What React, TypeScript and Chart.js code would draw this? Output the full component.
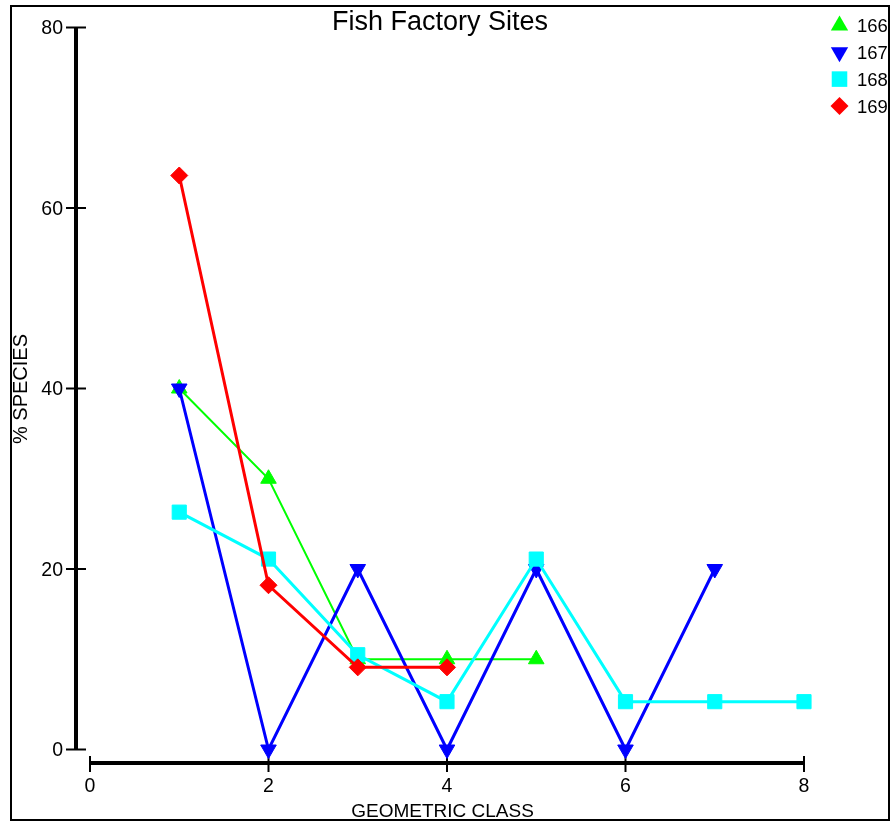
import React, { useEffect, useRef } from "react";
import { Chart, registerables } from "chart.js";

Chart.register(...registerables);

const chartTitle = "Fish Factory Sites";
const xAxisTitle = "GEOMETRIC CLASS";
const yAxisTitle = "% SPECIES";

const geometricClasses = [1, 2, 3, 4, 5, 6, 7, 8];
const xTickValues = [0, 2, 4, 6, 8];
const yTickValues = [0, 20, 40, 60, 80];

const seriesNames = ["166", "167", "168", "169"];
const site166 = [40, 30, 10, 10, 10];
const site167 = [40, 0, 20, 0, 20, 0, 20];
const site168 = [26.3, 21.1, 10.5, 5.3, 21.1, 5.3, 5.3, 5.3];
const site169 = [63.6, 18.2, 9.1, 9.1];

const seriesValues = [site166, site167, site168, site169];
const seriesColors = ["#00ff00", "#0000ff", "#00ffff", "#ff0000"];
const seriesStyles = ["triangle", "triangle", "rect", "rectRot"];
const seriesRotations = [0, 180, 0, 0];
const seriesRadii = [9, 9, 10, 8.5];
const seriesLineWidths = [2, 3, 3, 3];

const FONT = "'Liberation Sans', Arial, Helvetica, sans-serif";

function drawMarker(
  ctx: CanvasRenderingContext2D,
  style: string,
  x: number,
  y: number,
  r: number,
  rotation: number,
  color: string
) {
  ctx.save();
  ctx.fillStyle = color;
  ctx.beginPath();
  if (style === "triangle") {
    let rad = (rotation * Math.PI) / 180;
    ctx.moveTo(x + Math.sin(rad) * r, y - Math.cos(rad) * r);
    rad += (2 * Math.PI) / 3;
    ctx.lineTo(x + Math.sin(rad) * r, y - Math.cos(rad) * r);
    rad += (2 * Math.PI) / 3;
    ctx.lineTo(x + Math.sin(rad) * r, y - Math.cos(rad) * r);
    ctx.closePath();
  } else if (style === "rect") {
    const s = Math.SQRT1_2 * r;
    ctx.rect(x - s, y - s, 2 * s, 2 * s);
  } else {
    ctx.moveTo(x, y - r);
    ctx.lineTo(x + r, y);
    ctx.lineTo(x, y + r);
    ctx.lineTo(x - r, y);
    ctx.closePath();
  }
  ctx.fill();
  ctx.restore();
}

const decorPlugin = {
  id: "decor",
  beforeDatasetsDraw(chart: any) {
    const ctx: CanvasRenderingContext2D = chart.ctx;
    const xs = chart.scales.x;
    const ys = chart.scales.y;
    const area = chart.chartArea;
    ctx.save();

    // frame
    ctx.strokeStyle = "#000";
    ctx.lineWidth = 2;
    ctx.strokeRect(11, 6, 878, 814);

    // y axis
    const yAxisX = area.left - 14;
    ctx.lineWidth = 4;
    ctx.beginPath();
    ctx.moveTo(yAxisX, ys.getPixelForValue(80));
    ctx.lineTo(yAxisX, ys.getPixelForValue(0));
    ctx.stroke();
    ctx.lineWidth = 2;
    ctx.font = `19.5px ${FONT}`;
    ctx.fillStyle = "#000";
    ctx.textAlign = "right";
    ctx.textBaseline = "alphabetic";
    for (const v of yTickValues) {
      const py = ys.getPixelForValue(v);
      ctx.beginPath();
      ctx.moveTo(yAxisX - 10, py);
      ctx.lineTo(yAxisX + 10, py);
      ctx.stroke();
      ctx.fillText(String(v), yAxisX - 13, py + 6.5);
    }

    // x axis
    const xAxisY = area.bottom + 13.5;
    ctx.lineWidth = 4;
    ctx.beginPath();
    ctx.moveTo(xs.getPixelForValue(0), xAxisY);
    ctx.lineTo(xs.getPixelForValue(8), xAxisY);
    ctx.stroke();
    ctx.lineWidth = 2;
    ctx.textAlign = "center";
    for (const v of xTickValues) {
      const px = xs.getPixelForValue(v);
      ctx.beginPath();
      ctx.moveTo(px, xAxisY - 7);
      ctx.lineTo(px, xAxisY + 9);
      ctx.stroke();
      ctx.fillText(String(v), px, xAxisY + 28.5);
    }

    // titles
    ctx.font = `27px ${FONT}`;
    ctx.fillText(chartTitle, 440, 29.5);
    ctx.font = `19px ${FONT}`;
    ctx.fillText(xAxisTitle, 442.5, 816.5);
    ctx.save();
    ctx.translate(27, 389);
    ctx.rotate(-Math.PI / 2);
    ctx.font = `20px ${FONT}`;
    ctx.fillText(yAxisTitle, 0, 0);
    ctx.restore();

    ctx.restore();
  },
  afterDatasetsDraw(chart: any) {
    const ctx: CanvasRenderingContext2D = chart.ctx;
    ctx.save();
    ctx.font = `18.5px ${FONT}`;
    ctx.fillStyle = "#000";
    ctx.textAlign = "left";
    ctx.textBaseline = "alphabetic";
    seriesNames.forEach((name, i) => {
      const cy = 25.5 + i * 26.8;
      drawMarker(
        ctx,
        seriesStyles[i],
        839.5,
        cy,
        seriesStyles[i] === "rectRot" ? 9 : seriesStyles[i] === "rect" ? 11 : 10,
        seriesRotations[i],
        seriesColors[i]
      );
      ctx.fillText(name, 857, cy + 6.7);
    });
    ctx.restore();
  },
};

export default function App() {
  const canvasRef = useRef<HTMLCanvasElement | null>(null);

  useEffect(() => {
    if (!canvasRef.current) return;
    const datasets = seriesNames.map((name, i) => ({
      label: name,
      data: seriesValues[i].map((v, j) => ({ x: geometricClasses[j], y: v })),
      borderColor: seriesColors[i],
      backgroundColor: seriesColors[i],
      borderWidth: seriesLineWidths[i],
      pointStyle: seriesStyles[i] as any,
      rotation: seriesRotations[i],
      pointRadius: seriesRadii[i],
      pointBorderWidth: 1,
      pointBackgroundColor: seriesColors[i],
      pointBorderColor: seriesColors[i],
      tension: 0,
      clip: false as any,
      order: seriesNames.length - i,
    }));
    const chart = new Chart(canvasRef.current, {
      type: "line",
      data: { datasets },
      options: {
        animation: false,
        responsive: false,
        maintainAspectRatio: false,
        devicePixelRatio: 1,
        layout: { padding: { left: 90, right: 90, top: 27.5, bottom: 72.5 } },
        plugins: {
          legend: { display: false },
          title: { display: false },
          tooltip: { enabled: false },
        },
        events: [],
        scales: {
          x: { type: "linear", min: 0, max: 8, display: false },
          y: { type: "linear", min: 0, max: 80, display: false },
        },
      },
      plugins: [decorPlugin],
    });
    return () => chart.destroy();
  }, []);

  return (
    <div style={{ position: "fixed", left: 0, top: 0, width: 894, height: 822, background: "#fff" }}>
      <canvas ref={canvasRef} width={894} height={822} style={{ display: "block", width: 894, height: 822 }} />
    </div>
  );
}
